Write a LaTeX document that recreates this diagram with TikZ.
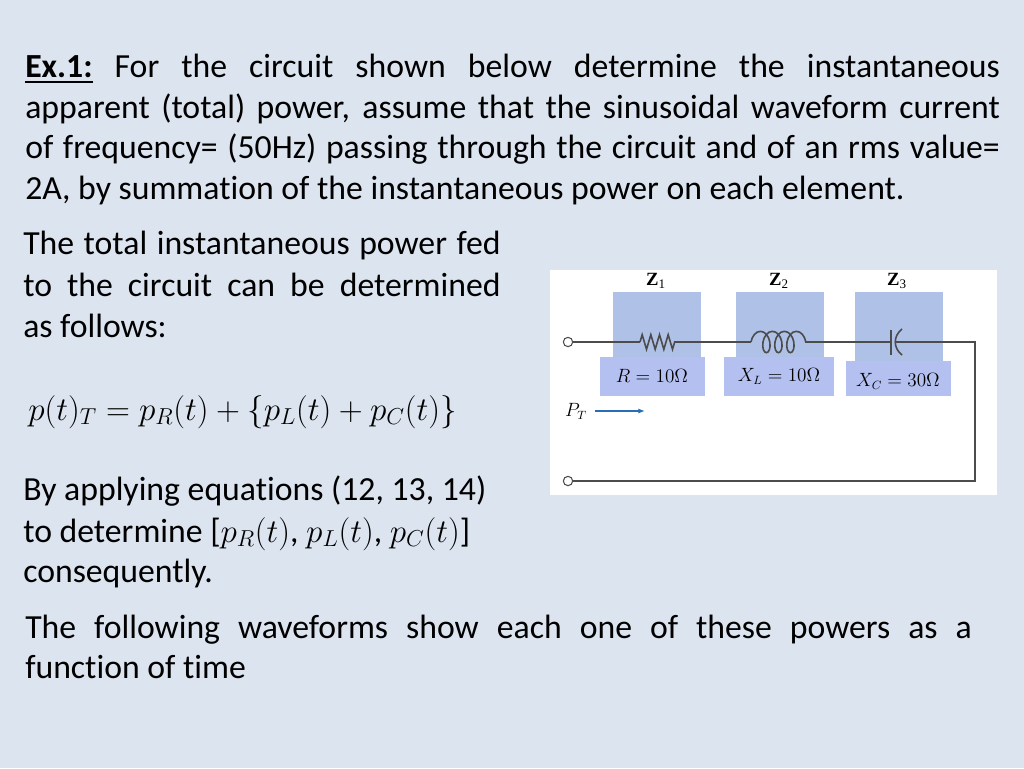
\documentclass[tikz,border=0pt]{standalone}
\usepackage{amsmath}
\usepackage{fontspec}
\setmainfont[Ligatures=NoCommon]{Carlito}
\newfontfamily\zser{Liberation Serif}
\usetikzlibrary{decorations.pathmorphing,arrows.meta}
\begin{document}
\begin{tikzpicture}[x=0.75pt,y=-0.75pt,
  txt/.style={anchor=base west,inner sep=0,font=\fontsize{25.3}{30}\selectfont},
  zbox/.style={fill=zb,draw=none},
  lbox/.style={fill=lb,draw=none},
  zlab/.style={font=\zser\bfseries\fontsize{14}{16}\selectfont},
  wire/.style={draw=black!70,line width=0.9pt},
  term/.style={circle,draw=black!70,fill=white,inner sep=0,minimum size=7pt,line width=0.8pt}]
\definecolor{bg}{HTML}{DCE4EF}
\definecolor{zb}{HTML}{AFC1E6}
\definecolor{lb}{HTML}{B4C0F0}
\fill[bg] (0,0) rectangle (1024,768);
\useasboundingbox (0,0) rectangle (1024,768);
\newcommand{\jl}[2]{\makebox[#1][s]{#2}}
\node[txt] (l1) at (25,77) {\jl{731pt}{\textbf{\underline{Ex.1:}} For the circuit shown below determine the instantaneous}};
\node[txt] (l2) at (25,118) {\jl{731pt}{apparent (total) power, assume that the sinusoidal waveform current}};
\node[txt] (l3) at (25,158) {\jl{731pt}{of frequency= (50Hz) passing through the circuit and of an rms value=}};
\node[txt] (l4) at (25,199) {2A, by summation of the instantaneous power on each element.};
\node[txt] (a1) at (23,254) {\jl{358pt}{The total instantaneous power fed}};
\node[txt] (a2) at (23,296) {\jl{358pt}{to the circuit can be determined}};
\node[txt] (a3) at (23,337) {as follows:};
\node[txt,font=\fontsize{26.5}{30}\selectfont] (eq) at (28,420) {$p(t)_T=p_R(t)+\{p_L(t)+p_C(t)\}$};
\node[txt] (b1) at (23,500) {By applying equations (12, 13, 14)};
\node[txt] (b2) at (23,542) {to determine [$p_R(t)$, $p_L(t)$, $p_C(t)$]};
\node[txt] (b3) at (23,582) {consequently.};
\node[txt] (c1) at (25,638) {\jl{710pt}{The following waveforms show each one of these powers as a}};
\node[txt] (c2) at (25,678) {function of time};
% circuit
\fill[white] (550,270) rectangle (997,495);
\fill[zbox] (613,292) rectangle (701,357);
\fill[lbox] (600,357) rectangle (705,396);
\fill[zbox] (736,292) rectangle (824,357);
\fill[lbox] (724,357) rectangle (834,396);
\fill[zbox] (855,292) rectangle (943,361);
\fill[lbox] (846,361) rectangle (951,396);
\node[zlab] (z1) at (656,281) {Z\textsubscript{\mdseries 1}};
\node[zlab] (z2) at (779,281) {Z\textsubscript{\mdseries 2}};
\node[zlab] (z3) at (897,281) {Z\textsubscript{\mdseries 3}};
\node[font=\fontsize{13.5}{16}\selectfont] (r) at (652,376) {$R=10\Omega$};
\node[font=\fontsize{13.5}{16}\selectfont] (xl) at (779,376) {$X_L=10\Omega$};
\node[font=\fontsize{13.5}{16}\selectfont] (xc) at (898,381) {$X_C=30\Omega$};
\node[term] (t1) at (568,342) {};
\node[term] (t2) at (568,481) {};
\coordinate (tr) at (975,342);
\coordinate (br) at (975,481);
\coordinate (r1) at (640,342); \coordinate (r2) at (677,342);
\coordinate (i1) at (751,342); \coordinate (i2) at (806,342);
\coordinate (c1a) at (891,342); \coordinate (c2a) at (896,342);
\draw[wire] (t1) -- (r1);
\draw[wire,line width=1.2pt,decoration={zigzag,segment length=6.5pt,amplitude=5.5pt},decorate] (r1) -- (r2);
\draw[wire] (r2) -- (i1);
\draw[wire,line width=1.2pt,decoration={coil,aspect=0.6,segment length=9pt,amplitude=8pt},decorate] (i1) -- (i2);
\draw[wire] (i2) -- (c1a);
\draw[wire] (c2a) -- (tr) -- (br) -- (t2);
\draw[wire,line width=1.3pt] (891,330) -- (891,355);
\draw[wire,line width=1.2pt] (902,329) .. controls (893,336) and (893,348) .. (902,355);
\node[font=\fontsize{13.5}{16}\selectfont] (pt) at (576,411) {$P_T$};
\draw[-{Latex[length=5pt]},draw={rgb,255:red,40;green,110;blue,180},line width=0.9pt] (595,411) -- (645,411);
\end{tikzpicture}
\end{document}
